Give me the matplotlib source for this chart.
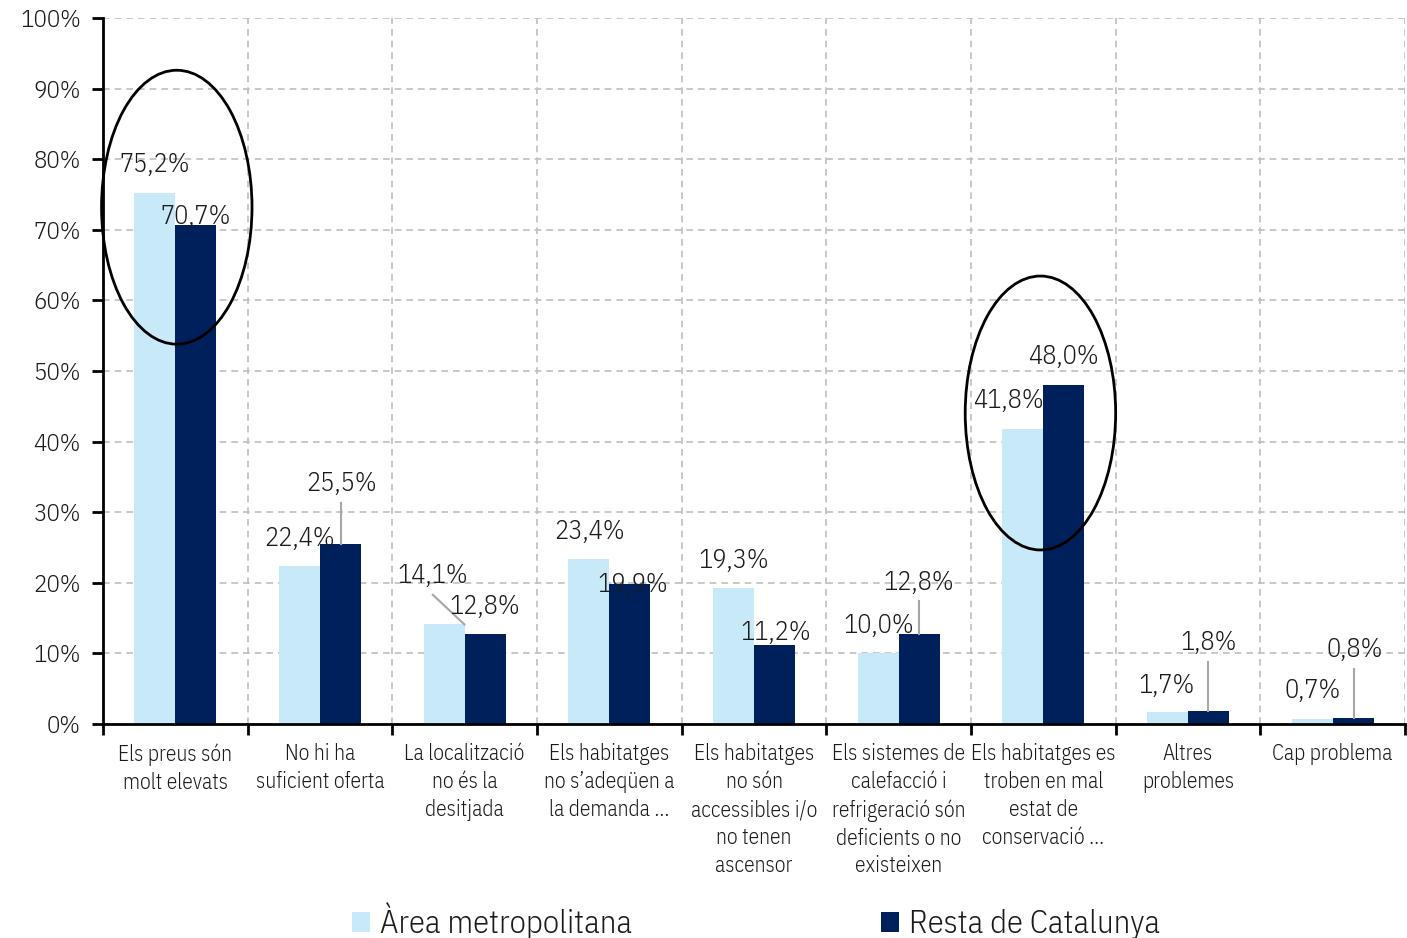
import matplotlib
matplotlib.use("Agg")
import matplotlib.pyplot as plt
from matplotlib.patches import Ellipse, Patch
import numpy as np

categories = [
    "Els preus són\nmolt elevats",
    "No hi ha\nsuficient oferta",
    "La localització\nno és la\ndesitjada",
    "Els habitatges\nno s\u2019adeqüen a\nla demanda ...",
    "Els habitatges\nno són\naccessibles i/o\nno tenen\nascensor",
    "Els sistemes de\ncalefacció i\nrefrigeració són\ndeficients o no\nexisteixen",
    "Els habitatges es\ntroben en mal\nestat de\nconservació ...",
    "Altres\nproblemes",
    "Cap problema",
]
area_metro = [75.2, 22.4, 14.1, 23.4, 19.3, 10.0, 41.8, 1.7, 0.7]
resta_cat = [70.7, 25.5, 12.8, 19.9, 11.2, 12.8, 48.0, 1.8, 0.8]
series_names = ["Àrea metropolitana", "Resta de Catalunya"]

plt.rcParams["font.family"] = ["IBM Plex Sans Condensed", "DejaVu Sans"]
plt.rcParams["font.weight"] = 300

LIGHT = "#C7E9F8"
DARK = "#00205B"
TEXT = "#1A1A1A"

fig = plt.figure(figsize=(14.07, 9.38), dpi=100)
ax = fig.add_axes([103 / 1407, 1 - 724 / 938, 1302 / 1407, 706 / 938])

n = len(categories)
x = np.arange(n) + 0.5
w = 0.283
ax.bar(x - w / 2, area_metro, width=w, color=LIGHT, zorder=3, label=series_names[0])
ax.bar(x + w / 2, resta_cat, width=w, color=DARK, zorder=3, label=series_names[1])

ax.set_xlim(0, n)
ax.set_ylim(0, 100)
ax.set_yticks(np.arange(0, 101, 10))
ax.set_yticklabels([f"{v}%" for v in range(0, 101, 10)], fontsize=18, color=TEXT)
ax.set_xticks(np.arange(0, n + 1))
ax.set_xticklabels([])
ax.set_xticks(x, minor=True)
ax.set_xticklabels(categories, minor=True, fontsize=15.5, color=TEXT, linespacing=1.34)
ax.tick_params(axis="x", which="minor", length=0, pad=14)
ax.tick_params(axis="x", which="major", length=8, width=2, direction="out")
ax.tick_params(axis="y", length=8, width=2, direction="out", pad=8)

ax.grid(True, which="major", color="#BFBFBF", linestyle=(0, (4, 3)), linewidth=1.2, zorder=0)
for s in ["top", "right"]:
    ax.spines[s].set_visible(False)
for s in ["left", "bottom"]:
    ax.spines[s].set_linewidth(2)
    ax.spines[s].set_color("black")
    ax.spines[s].set_zorder(4)

# Data labels: (series index, category index, label x, label y, leader line)
label_pos = [
    (0, 0, 0.36, 79.2, False), (1, 0, 0.64, 71.9, False),
    (0, 1, 1.355, 26.3, False), (1, 1, 1.645, 34.0, True),
    (0, 2, 2.28, 21.0, True), (1, 2, 2.64, 16.7, False),
    (0, 3, 3.36, 27.3, False), (1, 3, 3.66, 19.8, False),
    (0, 4, 4.36, 23.2, False), (1, 4, 4.65, 12.9, False),
    (0, 5, 5.36, 13.9, False), (1, 5, 5.64, 20.1, True),
    (0, 6, 6.26, 45.8, False), (1, 6, 6.64, 52.0, False),
    (0, 7, 7.35, 5.5, False), (1, 7, 7.64, 11.5, True),
    (0, 8, 8.36, 4.7, False), (1, 8, 8.65, 10.5, True),
]
series = [area_metro, resta_cat]
for si, ci, lx, ly, leader in label_pos:
    v = series[si][ci]
    txt = f"{v:.1f}%".replace(".", ",")
    ax.text(lx, ly, txt, ha="center", va="center", fontsize=19, color=TEXT, zorder=6)
    if leader:
        if si == 0:
            bx = x[ci] - w / 2 + 0.14
            ax.plot([lx, bx], [ly - 2.7, v], color="#A6A6A6", lw=1.5, zorder=5)
        else:
            ax.plot([lx, lx], [ly - 2.7, v], color="#A6A6A6", lw=1.5, zorder=5)

# Highlight ellipses
for cx, cy in [(0.51, 73.2), (6.48, 44.05)]:
    ax.add_patch(Ellipse((cx, cy), 1.04, 38.8, fill=False, edgecolor="black",
                         lw=2, zorder=7, clip_on=False))

handles = [Patch(facecolor=LIGHT, edgecolor="none"), Patch(facecolor=DARK, edgecolor="none")]
fig.legend(handles, series_names, loc="center", bbox_to_anchor=(756 / 1407, 1 - 921 / 938),
           ncol=2, frameon=False, fontsize=23.5, handlelength=0.56, handleheight=0.56,
           handletextpad=0.32, columnspacing=7.6, labelcolor=TEXT)

fig.savefig("out.png", dpi=100)
